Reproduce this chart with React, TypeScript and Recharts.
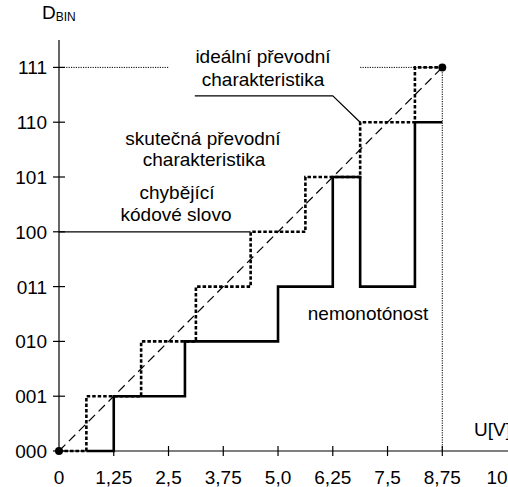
import React from 'react';
import { ComposedChart, Line, XAxis, YAxis } from 'recharts';

// tick values and labels
const voltTicks = [0, 1.25, 2.5, 3.75, 5, 6.25, 7.5, 8.75, 10];
const voltLabels = ['0', '1,25', '2,5', '3,75', '5,0', '6,25', '7,5', '8,75', '10'];
const codeTicks = [0, 1, 2, 3, 4, 5, 6, 7];
const codeLabels = ['000', '001', '010', '011', '100', '101', '110', '111'];

// ideal transfer characteristic (dashed staircase)
const idealStairs = [
  { u: 0, d: 0 }, { u: 0.625, d: 0 }, { u: 0.625, d: 1 }, { u: 1.875, d: 1 },
  { u: 1.875, d: 2 }, { u: 3.125, d: 2 }, { u: 3.125, d: 3 }, { u: 4.375, d: 3 },
  { u: 4.375, d: 4 }, { u: 5.625, d: 4 }, { u: 5.625, d: 5 }, { u: 6.875, d: 5 },
  { u: 6.875, d: 6 }, { u: 8.125, d: 6 }, { u: 8.125, d: 7 }, { u: 8.75, d: 7 },
];

// real transfer characteristic (solid), missing code 100, non-monotonic at 101
const realStairs = [
  { u: 0.625, d: 0 }, { u: 1.25, d: 0 }, { u: 1.25, d: 1 }, { u: 2.875, d: 1 },
  { u: 2.875, d: 2 }, { u: 5, d: 2 }, { u: 5, d: 3 }, { u: 6.25, d: 3 },
  { u: 6.25, d: 5 }, { u: 6.875, d: 5 }, { u: 6.875, d: 3 }, { u: 8.125, d: 3 },
  { u: 8.125, d: 6 }, { u: 8.75, d: 6 },
];

const diagonal = [{ u: 0, d: 0 }, { u: 8.75, d: 7 }];
const endPoints = [{ u: 0, d: 0 }, { u: 8.75, d: 7 }];

// dotted helper lines
const dottedLeft = [{ u: 0, d: 7 }, { u: 2.5, d: 7 }];
const dottedRight = [{ u: 6.875, d: 7 }, { u: 8.75, d: 7 }];
const dottedDown = [{ u: 8.75, d: 7 }, { u: 8.75, d: 0 }];

// leader lines of the annotations
const missingLeader = [{ u: 0, d: 4 }, { u: 4.375, d: 4 }];
const idealLeader = [{ u: 3.1, d: 6.48 }, { u: 6.25, d: 6.48 }, { u: 6.875, d: 6 }];

const FONT = '"Liberation Sans", Arial, sans-serif';

const XTick = (props: any) => {
  const { x, y, payload, index } = props;
  const v = payload.value;
  return (
    <g>
      {v > 0 && v < 10 && <line x1={x} x2={x} y1={y - 5} y2={y + 5} stroke="#000" strokeWidth={1.2} />}
      <text x={x} y={y + 33} textAnchor="middle" fontSize={19} fontFamily={FONT} fill="#000">
        {voltLabels[index] ?? String(v)}
      </text>
    </g>
  );
};

const YTick = (props: any) => {
  const { x, y, payload } = props;
  return (
    <g>
      <line x1={x - 6} x2={x + 6} y1={y} y2={y} stroke="#000" strokeWidth={1.2} />
      <text x={x - 12} y={y + 7} textAnchor="end" fontSize={19} fontFamily={FONT} fill="#000">
        {codeLabels[payload.value]}
      </text>
    </g>
  );
};

const txt = { fontSize: 19, fontFamily: FONT, fill: '#000', textAnchor: 'middle' as const };

export default function App() {
  return (
    <div style={{ position: 'absolute', left: 0, top: 0, background: '#fff' }}>
      <ComposedChart width={508} height={487} margin={{ top: 40, right: 0, bottom: 0, left: 0 }}>
        <XAxis
          type="number"
          dataKey="u"
          domain={[0, 10.25]}
          ticks={voltTicks}
          height={36}
          tickSize={0}
          tickMargin={0}
          tickLine={false}
          axisLine={{ stroke: '#000', strokeWidth: 1.2 }}
          tick={<XTick />}
          interval={0}
        />
        <YAxis
          type="number"
          domain={[0, 7.5]}
          ticks={codeTicks}
          width={59}
          tickSize={0}
          tickMargin={0}
          tickLine={false}
          axisLine={{ stroke: '#000', strokeWidth: 1.2 }}
          tick={<YTick />}
          interval={0}
        />

        <Line data={dottedLeft} dataKey="d" type="linear" stroke="#000" strokeWidth={1} strokeDasharray="1.2 1.2" dot={false} isAnimationActive={false} />
        <Line data={dottedRight} dataKey="d" type="linear" stroke="#000" strokeWidth={1} strokeDasharray="1.2 1.2" dot={false} isAnimationActive={false} />
        <Line data={dottedDown} dataKey="d" type="linear" stroke="#000" strokeWidth={1} strokeDasharray="1.2 1.2" dot={false} isAnimationActive={false} />
        <Line data={missingLeader} dataKey="d" type="linear" stroke="#000" strokeWidth={1.2} dot={false} isAnimationActive={false} />
        <Line data={idealLeader} dataKey="d" type="linear" stroke="#000" strokeWidth={1.2} dot={false} isAnimationActive={false} />
        <Line data={diagonal} dataKey="d" type="linear" stroke="#000" strokeWidth={1.2} strokeDasharray="9 5" dot={false} isAnimationActive={false} />
        <Line data={idealStairs} dataKey="d" type="linear" stroke="#000" strokeWidth={2.6} strokeDasharray="3.5 2" dot={false} isAnimationActive={false} />
        <Line data={realStairs} dataKey="d" type="linear" stroke="#000" strokeWidth={2.6} dot={false} isAnimationActive={false} />
        <Line data={endPoints} dataKey="d" type="linear" stroke="none" dot={{ r: 4, fill: '#000', stroke: 'none', clipDot: false }} isAnimationActive={false} />

        <text x={42} y={19} fontSize={19} fontFamily={FONT} fill="#000">
          D<tspan fontSize={12} dy={2}>BIN</tspan>
        </text>
        <text x={263} y={63} {...txt}>ideální převodní</text>
        <text x={263} y={86} {...txt}>charakteristika</text>
        <text x={203} y={145} {...txt}>skutečná převodní</text>
        <text x={204} y={166} {...txt}>charakteristika</text>
        <text x={177} y={199} {...txt}>chybějící</text>
        <text x={176} y={221} {...txt}>kódové slovo</text>
        <text x={368} y={320} {...txt}>nemonotónost</text>
        <text x={474} y={436} fontSize={19} fontFamily={FONT} fill="#000">U[V]</text>
      </ComposedChart>
    </div>
  );
}
